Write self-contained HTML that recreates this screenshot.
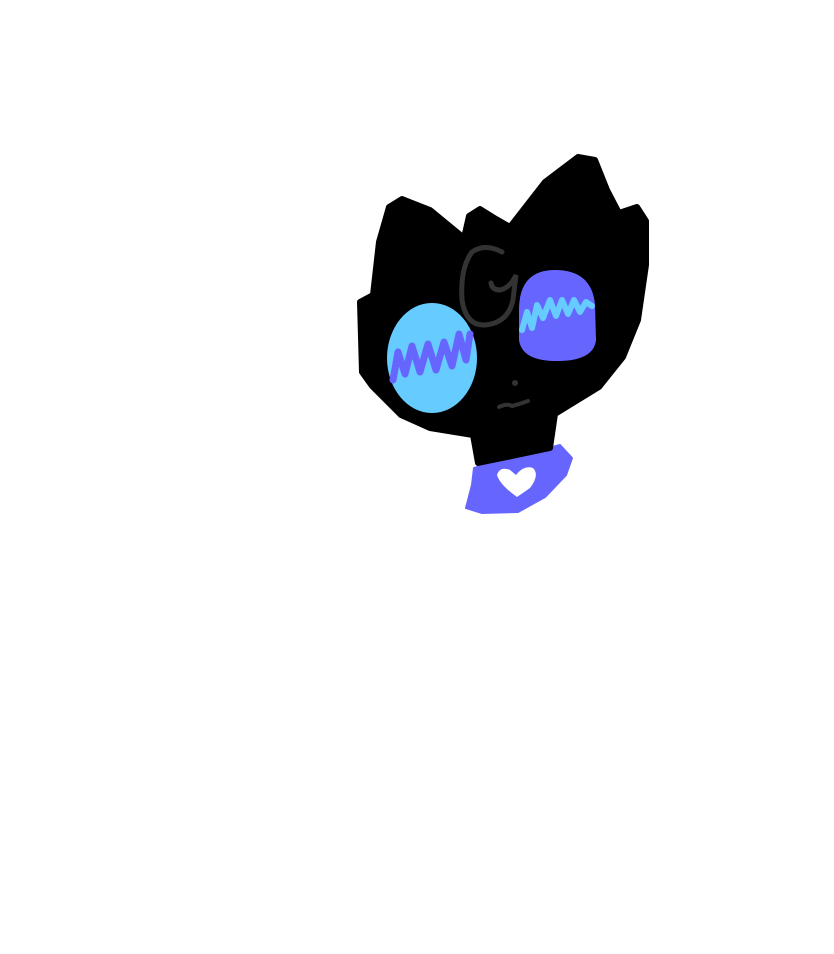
<!DOCTYPE html>
<html><head><style>html,body{margin:0;padding:0;background:#fff;width:834px;height:954px;overflow:hidden}</style></head>
<body>
<svg width="834" height="954" viewBox="0 0 834 954" xmlns="http://www.w3.org/2000/svg">
<rect width="834" height="954" fill="#fff"/>
<path d="M560,445 L572,458 L566,475 L545,497 L518,512 L482,513 L466,508 L472,485 L474,468 Z" fill="#6666ff" stroke="#6666ff" stroke-width="2" stroke-linejoin="round"/>
<path d="M372,386 L362,372 L360,302 L373,295 L379,242 L389,207 L402,199 L430,210 L464,238 L469,216 L480,209 L496,219 L510,227 L545,182 L578,157 L595,160 L607,190 L619,213 L637,207 L646,221 L646,265 L638,320 L623,357 L599,387 L555,414 L550,448 L478,463 L473,435 L430,428 L401,415 Z" fill="#000" stroke="#000" stroke-width="6" stroke-linejoin="round"/>
<ellipse cx="432" cy="358" rx="45" ry="55" fill="#66ccff"/>
<path d="M519,310 Q519,270 555,270 Q592,270 595,305 L596,340 Q594,360 560,361 Q522,362 519,340 Z" fill="#6666ff"/>
<polyline points="393,380 398,352 405,374 412,346 420,372 428,344 436,370 444,342 452,366 459,334 466,360 470,334" fill="none" stroke="#6666ff" stroke-width="7" stroke-linejoin="round" stroke-linecap="round"/>
<polyline points="522,330 527,312 532,328 537,305 543,318 550,300 556,316 562,300 568,314 574,300 580,312 586,302 592,306" fill="none" stroke="#66ccff" stroke-width="6" stroke-linejoin="round" stroke-linecap="round"/>
<path d="M502,252 Q485,243 472,252 Q460,268 462,300 Q466,326 485,325 Q508,323 513,300 L516,275 Q510,288 500,290 Q492,290 491,283" fill="none" stroke="#333" stroke-width="5" stroke-linecap="round"/>
<circle cx="515" cy="383" r="3" fill="#333"/>
<path d="M499,407 Q507,403 512,406 Q520,404 528,401" fill="none" stroke="#333" stroke-width="4" stroke-linecap="round"/>
<path d="M517,497 Q500,485 497,475 Q500,466 510,470 L516,475 Q524,465 533,468 Q540,475 530,488 Z" fill="#fff"/>
</svg>
</body></html>
